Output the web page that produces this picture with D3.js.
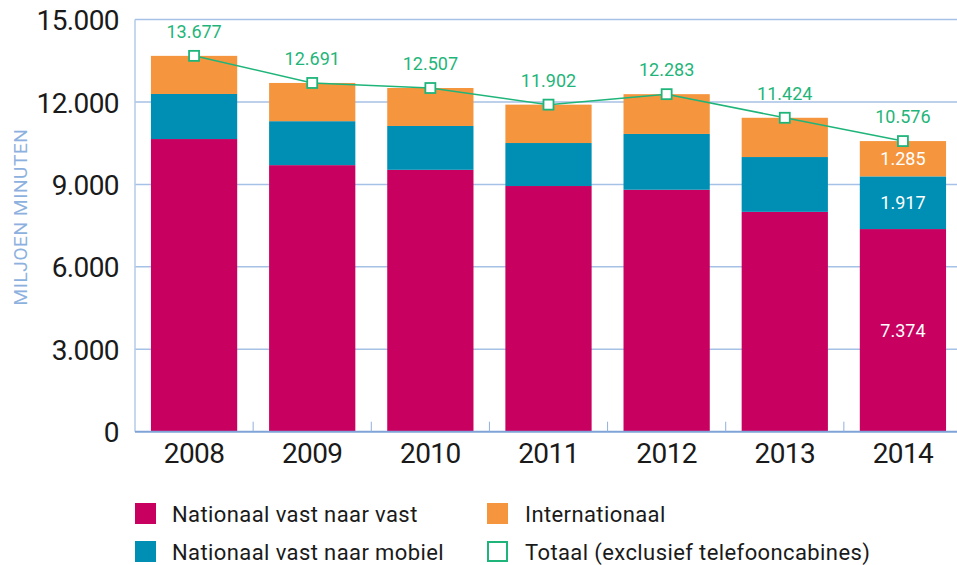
<!DOCTYPE html>
<html>
<head>
<meta charset="utf-8">
<script src="https://cdn.jsdelivr.net/npm/d3@7"></script>
<style>
  body { margin: 0; background: #fff; }
  svg { display: block; font-family: Roboto, "Noto Sans", sans-serif; }
</style>
</head>
<body>
<svg id="chart" width="957" height="565"></svg>
<script>
const years = ['2008', '2009', '2010', '2011', '2012', '2013', '2014'];
const vastVast = [10650, 9700, 9530, 8940, 8805, 8000, 7374];
const vastMobiel = [1640, 1600, 1595, 1565, 2030, 1995, 1917];
const internationaal = [1387, 1391, 1382, 1397, 1448, 1429, 1285];
const totaal = [13677, 12691, 12507, 11902, 12283, 11424, 10576];
const yTicks = [0, 3000, 6000, 9000, 12000, 15000];

const keys = ['vastVast', 'vastMobiel', 'internationaal'];
const color = { vastVast: '#c8005f', vastMobiel: '#008fb4', internationaal: '#f5963f' };
const green = '#1fb57a';

const rows = years.map((y, i) => ({
  year: y,
  vastVast: vastVast[i],
  vastMobiel: vastMobiel[i],
  internationaal: internationaal[i],
  totaal: totaal[i]
}));

const fmt = v => d3.format(',')(v).replace(/,/g, '.');

const svg = d3.select('#chart');
const plotLeft = 135, plotRight = 962, plotTop = 19.5, plotBottom = 431.7;

const x = d3.scaleBand()
  .domain(years)
  .range([plotLeft, plotRight])
  .paddingInner(0.27)
  .paddingOuter(0.135);

const y = d3.scaleLinear()
  .domain([0, 15000])
  .range([plotBottom, plotTop]);

// gridlines
svg.append('g')
  .selectAll('line')
  .data(yTicks.filter(d => d > 0))
  .join('line')
  .attr('x1', plotLeft).attr('x2', 957)
  .attr('y1', d => y(d)).attr('y2', d => y(d))
  .attr('stroke', '#a6c1e6')
  .attr('stroke-width', 1.5);

// left axis line
svg.append('line')
  .attr('x1', plotLeft).attr('x2', plotLeft)
  .attr('y1', plotTop).attr('y2', plotBottom)
  .attr('stroke', '#b3cbe9')
  .attr('stroke-width', 1.5);

// y labels
svg.append('g')
  .selectAll('text')
  .data(yTicks)
  .join('text')
  .attr('x', 119)
  .attr('y', d => y(d))
  .attr('dy', '0.38em')
  .attr('text-anchor', 'end')
  .attr('font-size', 28)
  .attr('letter-spacing', -0.6)
  .attr('fill', '#1a1a1a')
  .text(d => fmt(d));

// y title
svg.append('text')
  .attr('transform', 'translate(26.5,217) rotate(-90)')
  .attr('text-anchor', 'middle')
  .attr('font-size', 19)
  .attr('letter-spacing', 0.6)
  .attr('fill', '#8db1de')
  .text('MILJOEN MINUTEN');

// stacked bars
const stacked = d3.stack().keys(keys)(rows);
svg.append('g')
  .selectAll('g')
  .data(stacked)
  .join('g')
  .attr('fill', d => color[d.key])
  .selectAll('rect')
  .data(d => d)
  .join('rect')
  .attr('x', d => x(d.data.year))
  .attr('width', x.bandwidth())
  .attr('y', d => y(d[1]))
  .attr('height', d => y(d[0]) - y(d[1]));

// bottom axis
svg.append('line')
  .attr('x1', plotLeft).attr('x2', 957)
  .attr('y1', plotBottom).attr('y2', plotBottom)
  .attr('stroke', '#7fa3d6')
  .attr('stroke-width', 2);

const gap = x.step() - x.bandwidth();
svg.append('g')
  .selectAll('line')
  .data(years.slice(1))
  .join('line')
  .attr('x1', d => x(d) - gap / 2)
  .attr('x2', d => x(d) - gap / 2)
  .attr('y1', plotBottom - 10).attr('y2', plotBottom)
  .attr('stroke', '#8fb0de')
  .attr('stroke-width', 1);

svg.append('g')
  .selectAll('text')
  .data(years)
  .join('text')
  .attr('x', d => x(d) + x.bandwidth() / 2)
  .attr('y', 463)
  .attr('text-anchor', 'middle')
  .attr('font-size', 28)
  .attr('letter-spacing', -0.6)
  .attr('fill', '#1a1a1a')
  .text(d => d);

// value labels inside last bar
const last = rows[rows.length - 1];
const lastStack = stacked.map(s => s[s.length - 1]);
svg.append('g')
  .selectAll('text')
  .data(lastStack)
  .join('text')
  .attr('x', x(last.year) + x.bandwidth() / 2)
  .attr('y', d => y((d[0] + d[1]) / 2))
  .attr('dy', '0.36em')
  .attr('text-anchor', 'middle')
  .attr('font-size', 18)
  .attr('fill', '#fff')
  .text(d => fmt(d[1] - d[0]));

// total line
const line = d3.line()
  .x(d => x(d.year) + x.bandwidth() / 2)
  .y(d => y(d.totaal));

svg.append('path')
  .datum(rows)
  .attr('d', line)
  .attr('fill', 'none')
  .attr('stroke', green)
  .attr('stroke-width', 1.5);

svg.append('g')
  .selectAll('rect')
  .data(rows)
  .join('rect')
  .attr('x', d => x(d.year) + x.bandwidth() / 2 - 5)
  .attr('y', d => y(d.totaal) - 5)
  .attr('width', 10)
  .attr('height', 10)
  .attr('fill', '#fff')
  .attr('stroke', green)
  .attr('stroke-width', 1.8);

svg.append('g')
  .selectAll('text')
  .data(rows)
  .join('text')
  .attr('x', d => x(d.year) + x.bandwidth() / 2)
  .attr('y', d => y(d.totaal) - 18)
  .attr('text-anchor', 'middle')
  .attr('font-size', 18)
  .attr('fill', green)
  .text(d => fmt(d.totaal));

// legend
const legendItems = [
  { label: 'Nationaal vast naar vast', fill: color.vastVast, col: 0, row: 0 },
  { label: 'Nationaal vast naar mobiel', fill: color.vastMobiel, col: 0, row: 1 },
  { label: 'Internationaal', fill: color.internationaal, col: 1, row: 0 },
  { label: 'Totaal (exclusief telefooncabines)', fill: null, col: 1, row: 1 }
];
const legend = svg.append('g');
const lg = legend.selectAll('g')
  .data(legendItems)
  .join('g')
  .attr('transform', d => `translate(${d.col ? 487 : 135},${d.row ? 541 : 503})`);

lg.append('rect')
  .attr('x', d => d.fill ? 0 : 1)
  .attr('y', d => d.fill ? 0 : 1)
  .attr('width', d => d.fill ? 21 : 19)
  .attr('height', d => d.fill ? 21 : 19)
  .attr('fill', d => d.fill || '#fff')
  .attr('stroke', d => d.fill ? 'none' : green)
  .attr('stroke-width', 2);

lg.append('text')
  .attr('x', d => d.col ? 38 : 37)
  .attr('y', 19)
  .attr('font-size', 22)
  .attr('letter-spacing', 0.4)
  .attr('fill', '#1a1a1a')
  .text(d => d.label);
</script>
</body>
</html>
